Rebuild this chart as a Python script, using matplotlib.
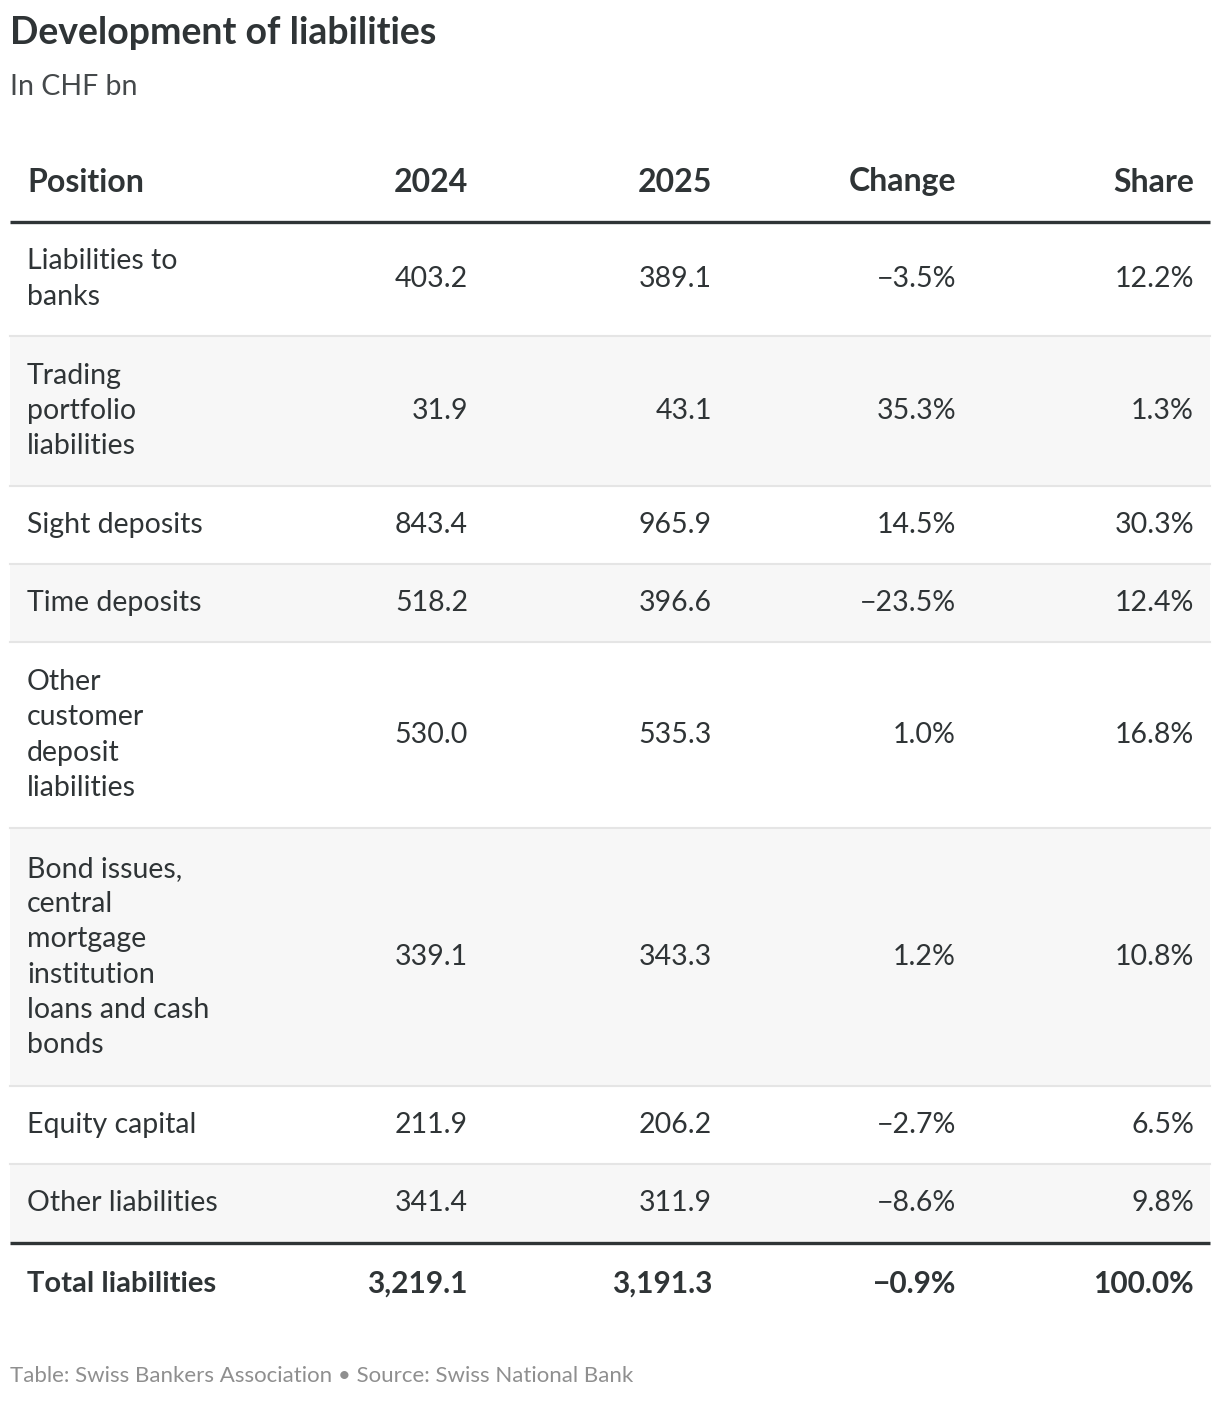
import matplotlib
matplotlib.use("Agg")
import matplotlib.pyplot as plt
from matplotlib.patches import Rectangle

plt.rcParams['font.family'] = ['Lato', 'DejaVu Sans']

# datos de la tabla
positions = ["Liabilities to\nbanks", "Trading\nportfolio\nliabilities", "Sight deposits",
             "Time deposits", "Other\ncustomer\ndeposit\nliabilities",
             "Bond issues,\ncentral\nmortgage\ninstitution\nloans and cash\nbonds",
             "Equity capital", "Other liabilities"]
v2024 = [403.2, 31.9, 843.4, 518.2, 530.0, 339.1, 211.9, 341.4]
v2025 = [389.1, 43.1, 965.9, 396.6, 535.3, 343.3, 206.2, 311.9]
change = [-3.5, 35.3, 14.5, -23.5, 1.0, 1.2, -2.7, -8.6]
share = [12.2, 1.3, 30.3, 12.4, 16.8, 10.8, 6.5, 9.8]

total_label = "Total liabilities"
total = [3219.1, 3191.3, -0.9, 100.0]

headers = ["Position", "2024", "2025", "Change", "Share"]

W, H = 1220, 1402
TXT = '#2f3436'

def fmt(v, pct=False):
    s = f"{v:,.1f}" + ("%" if pct else "")
    return s.replace("-", "\u2212")

fig = plt.figure(figsize=(W / 100, H / 100), dpi=100)
ax = fig.add_axes([0, 0, 1, 1])
ax.set_xlim(0, W)
ax.set_ylim(H, 0)
ax.axis('off')

fig.text(10 / W, 1 - 33 / H, "Development of liabilities", fontsize=27, fontweight='bold',
         color=TXT, va='center', ha='left')
fig.text(10 / W, 1 - 87 / H, "In CHF bn", fontsize=20.5, color='#45494b', va='center', ha='left')

x_left = 27
x_right = [468, 712, 956, 1194]

# cabecera
hy = 182
ax.text(x_left, hy, headers[0], fontsize=23, fontweight='bold', color=TXT, va='center')
for x, h in zip(x_right, headers[1:]):
    ax.text(x, hy, h, fontsize=23, fontweight='bold', color=TXT, va='center', ha='right')

top = 222
for i, lab in enumerate(positions):
    n = lab.count("\n") + 1
    rh = 42 + 36 * n
    if i % 2 == 1:
        ax.add_patch(Rectangle((10, top), 1200, rh, facecolor='#f7f7f7', edgecolor='none', zorder=0))
    if i > 0:
        ax.plot([10, 1210], [top, top], color='#e5e5e5', lw=1.5, zorder=1)
    cy = top + rh / 2
    ax.text(x_left, cy, lab, fontsize=20.5, color=TXT, va='center', ha='left', linespacing=1.43)
    vals = [fmt(v2024[i]), fmt(v2025[i]), fmt(change[i], True), fmt(share[i], True)]
    for x, s in zip(x_right, vals):
        ax.text(x, cy, s, fontsize=20.5, color=TXT, va='center', ha='right')
    top += rh

ax.plot([10, 1210], [222, 222], color=TXT, lw=2.4, zorder=2, solid_capstyle='butt')
ax.plot([10, 1210], [top + 1, top + 1], color=TXT, lw=2.4, zorder=2, solid_capstyle='butt')

ty = 1284
ax.text(x_left, ty, total_label, fontsize=21, fontweight='bold', color=TXT, va='center')
tvals = [fmt(total[0]), fmt(total[1]), fmt(total[2], True), fmt(total[3], True)]
for x, s in zip(x_right, tvals):
    ax.text(x, ty, s, fontsize=21.5, fontweight='bold', color=TXT, va='center', ha='right')

ax.text(10, 1376, "Table: Swiss Bankers Association \u2022 Source: Swiss National Bank",
        fontsize=16, color='#8f8f8f', va='center', ha='left')

fig.savefig("out.png", dpi=100, facecolor='white')
